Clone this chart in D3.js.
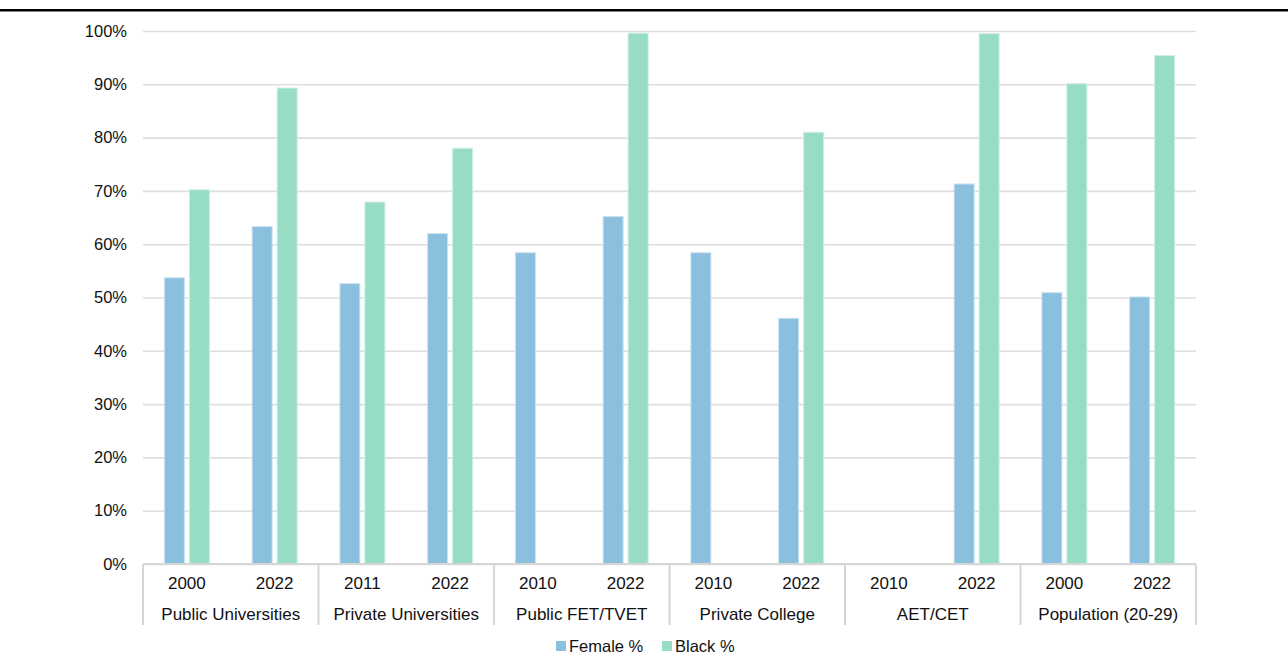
<!DOCTYPE html>
<html>
<head>
<meta charset="utf-8">
<script src="https://cdn.jsdelivr.net/npm/d3@7"></script>
<style>
  html, body { margin: 0; padding: 0; background: #fff; }
  svg { display: block; }
  text { font-family: "Liberation Sans", Arial, Helvetica, sans-serif; fill: #111; }
</style>
</head>
<body>
<svg id="chart" width="1288" height="657"></svg>
<script>
// Sector groups and the two years shown for each
const groups = ["Public Universities", "Private Universities", "Public FET/TVET", "Private College", "AET/CET", "Population (20-29)"];
const years = [["2000", "2022"], ["2011", "2022"], ["2010", "2022"], ["2010", "2022"], ["2010", "2022"], ["2000", "2022"]];

// Share of enrolment (fraction), one value per group-year; null = no data
const femalePct = [0.537, 0.633, 0.526, 0.620, 0.584, 0.652, 0.584, 0.461, null, 0.713, 0.509, 0.501];
const blackPct  = [0.702, 0.893, 0.679, 0.780, null, 0.996, null, 0.810, null, 0.995, 0.901, 0.954];

const seriesNames = ["Female %", "Black %"];
const seriesColors = ["#8bbfde", "#97dcc4"];
const seriesStroke = ["#c9e2f1", "#cdeee2"];
const yTicks = [0, 0.1, 0.2, 0.3, 0.4, 0.5, 0.6, 0.7, 0.8, 0.9, 1.0];

const svg = d3.select("#chart");
const plotLeft = 143, plotRight = 1196, plotTop = 31, plotBottom = 564;

// Heavy rule across the top of the figure
svg.append("rect").attr("x", 0).attr("y", 9).attr("width", 1288).attr("height", 2.5).attr("fill", "#000");

// Flatten group-year pairs into one band per bar cluster
const slots = [];
groups.forEach((g, gi) => years[gi].forEach((yr, yi) => slots.push({ group: g, gi, year: yr, i: slots.length })));

const x = d3.scaleBand().domain(slots.map(d => d.i)).range([plotLeft, plotRight]).padding(0);
const xg = d3.scaleBand().domain(groups).range([plotLeft, plotRight]).padding(0);
const xs = d3.scaleBand().domain(seriesNames).range([-22.5, 22.5]).paddingInner(0.2).paddingOuter(0);
const y = d3.scaleLinear().domain([0, 1]).range([plotBottom, plotTop]);

// Gridlines and y labels
const yAxis = d3.axisLeft(y).tickValues(yTicks).tickFormat(d3.format(".0%")).tickSize(-(plotRight - plotLeft)).tickPadding(16);
const gy = svg.append("g").attr("transform", `translate(${plotLeft},0)`).call(yAxis);
gy.select(".domain").remove();
gy.selectAll(".tick line").attr("stroke", "#dedede").attr("stroke-width", 1.6);
gy.selectAll(".tick text").attr("font-size", 16.5).attr("fill", "#111")
  .style("font-family", '"Liberation Sans", Arial, sans-serif');

// Bars
const barData = [];
slots.forEach(s => {
  [femalePct[s.i], blackPct[s.i]].forEach((v, k) => {
    if (v !== null) barData.push({ slot: s.i, series: seriesNames[k], k, v });
  });
});
svg.append("g").selectAll("rect").data(barData).join("rect")
  .attr("x", d => x(d.slot) + x.bandwidth() / 2 + xs(d.series))
  .attr("y", d => y(d.v))
  .attr("width", xs.bandwidth())
  .attr("height", d => y(0) - y(d.v))
  .attr("fill", d => seriesColors[d.k])
  .attr("stroke", d => seriesStroke[d.k])
  .attr("stroke-width", 1);

// Category axis: baseline and group separators
const axisG = svg.append("g");
axisG.append("line").attr("x1", plotLeft).attr("x2", plotRight).attr("y1", plotBottom).attr("y2", plotBottom)
  .attr("stroke", "#d6d6d6").attr("stroke-width", 2);
const seps = groups.map(g => xg(g)).concat([plotRight]);
axisG.selectAll("line.sep").data(seps).join("line").attr("class", "sep")
  .attr("x1", d => d).attr("x2", d => d).attr("y1", plotBottom).attr("y2", 625)
  .attr("stroke", "#d6d6d6").attr("stroke-width", 2);

// Year labels
axisG.selectAll("text.year").data(slots).join("text").attr("class", "year")
  .attr("x", d => x(d.i) + x.bandwidth() / 2).attr("y", 589)
  .attr("text-anchor", "middle").attr("font-size", 17).text(d => d.year);

// Group labels
axisG.selectAll("text.grp").data(groups).join("text").attr("class", "grp")
  .attr("x", d => xg(d) + xg.bandwidth() / 2).attr("y", 620)
  .attr("text-anchor", "middle").attr("font-size", 17).text(d => d);

// Legend
const legendX = [556, 662];
const lg = svg.append("g").selectAll("g").data(seriesNames).join("g")
  .attr("transform", (d, i) => `translate(${legendX[i]},641)`);
lg.append("rect").attr("width", 10).attr("height", 10).attr("fill", (d, i) => seriesColors[i]);
lg.append("text").attr("x", 13).attr("y", 10.5).attr("font-size", 16.5).text(d => d);
</script>
</body>
</html>
